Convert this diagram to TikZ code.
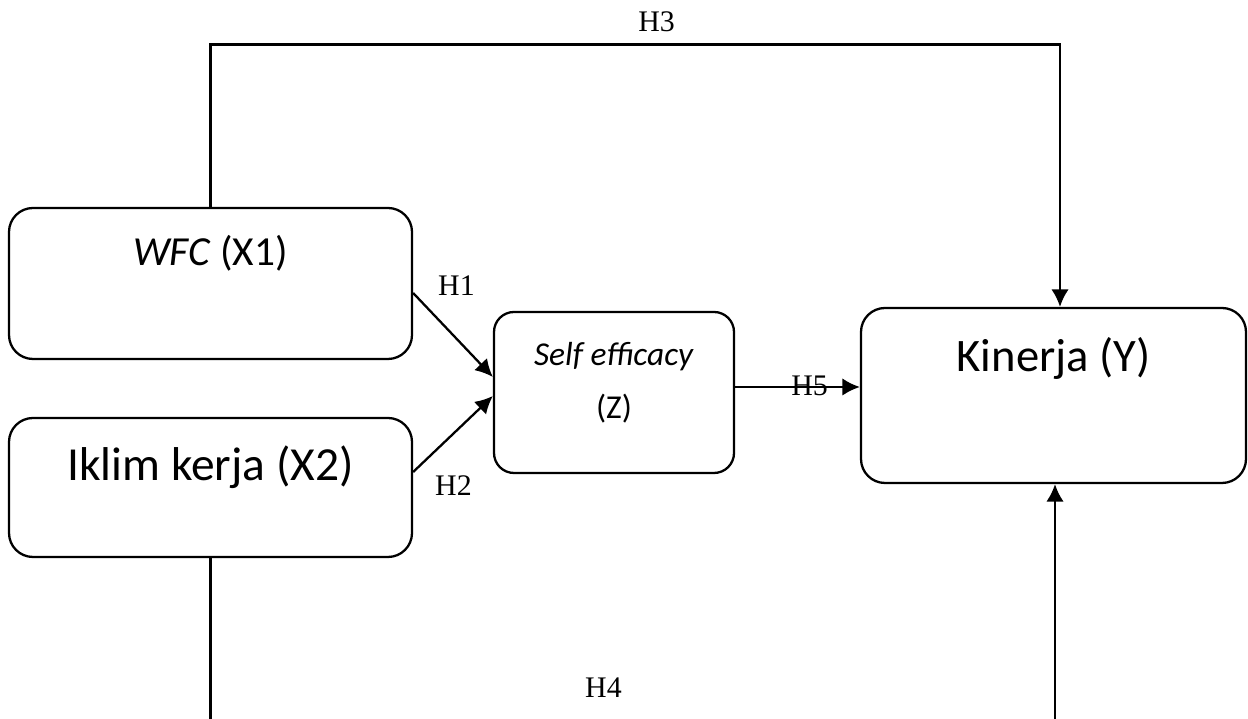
\documentclass[tikz,border=0pt]{standalone}
\usepackage{fontspec}
\setmainfont{Liberation Serif}
\newfontfamily\calibri{Carlito}
\usetikzlibrary{arrows.meta,positioning,calc}

\begin{document}
\begin{tikzpicture}[>={Latex[length=10pt,width=10pt]},
  var/.style={draw, line width=1.3pt, rounded corners=0.48cm},
  vartext/.style={anchor=base, font=\calibri\fontsize{#1}{#1}\selectfont},
  hyp/.style={->, line width=1.3pt},
  hlabel/.style={anchor=base, font=\fontsize{17}{20}\selectfont}]
  \path[use as bounding box, clip] (0,0) rectangle (24.96,14.38);

  % variables
  \node[var, minimum width=8.06cm, minimum height=3.02cm] (x1) at (4.21,8.71) {};
  \node[var, minimum width=8.06cm, minimum height=2.78cm] (x2) at (4.21,4.63) {};
  \node[var, rounded corners=0.4cm, minimum width=4.8cm, minimum height=3.22cm] (z) at (12.28,6.53) {};
  \node[var, minimum width=7.7cm, minimum height=3.5cm] (y) at (21.07,6.47) {};

  \node[vartext=23.5] (x1txt) at (4.21,9.06) {\textit{WFC} (X1)};
  \node[vartext=27] (x2txt) at (4.21,4.76) {Iklim kerja (X2)};
  \node[vartext=26.5] (ytxt) at (21.07,6.94) {Kinerja (Y)};
  \node[align=center, font=\calibri\fontsize{19}{30}\selectfont] (ztxt) at (12.28,6.72)
    {\textit{Self efficacy}\\(Z)};

  % paths
  \coordinate (h3top) at (4.21,13.49);
  \coordinate (h4bot) at (4.21,-0.5);
  \draw[hyp] ([yshift=-0.19cm]x1.east) -- ([yshift=0.31cm]z.west);
  \draw[hyp] ([yshift=0.31cm]x2.east) -- ([yshift=-0.07cm]z.west);
  \draw[hyp] (x1.north) -- (h3top) -| ([xshift=0.13cm]y.north);
  \draw[hyp] (x2.south) -- (h4bot) -| ([xshift=0.03cm]y.south);
  \draw[hyp] ([yshift=0.11cm]z.east) -- ([yshift=0.11cm]z.east -| y.west);

  \node[hlabel] (h1) at (9.13,8.46) {H1};
  \node[hlabel] (h2) at (9.07,4.46) {H2};
  \node[hlabel] (h3) at (13.13,13.74) {H3};
  \node[hlabel] (h4) at (12.07,0.42) {H4};
  \node[hlabel] (h5) at (16.19,6.46) {H5};
\end{tikzpicture}
\end{document}
